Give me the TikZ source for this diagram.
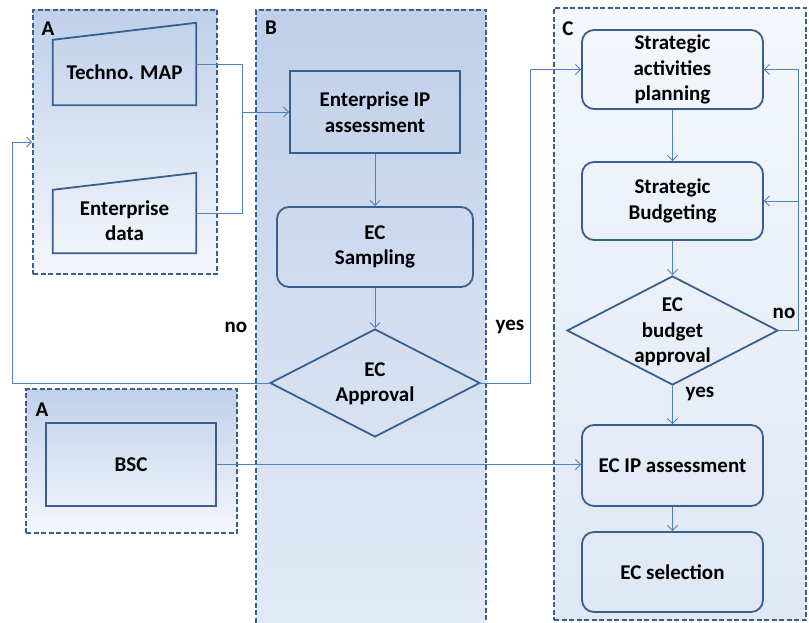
\documentclass[tikz,border=0pt]{standalone}
\usepackage{fontspec}
\setmainfont{Carlito}
\usetikzlibrary{arrows.meta,shapes.geometric}
\definecolor{bord}{HTML}{3A5F8F}
\definecolor{conn}{HTML}{4F81BD}
\definecolor{bgblue}{HTML}{C0D0EA}
\definecolor{bgmid}{HTML}{C6D5ED}
\definecolor{bglight}{HTML}{F4F7FC}
\tikzset{
  every node/.style={font=\bfseries\fontsize{21}{25.5}\selectfont, text=black},
  container/.style={draw=bord, line width=1.7pt, dash pattern=on 5pt off 2.5pt, inner sep=0pt},
  procbox/.style={draw=bord, line width=1.8pt, inner sep=0pt, align=center},
  roundbox/.style={procbox, rounded corners=12pt},
  decision/.style={draw=bord, line width=1.8pt, diamond, inner sep=0pt},
  manual/.style={inner sep=0pt},
  conline/.style={draw=conn, line width=0.9pt},
  conarrow/.style={conline, -{Straight Barb[length=5pt,width=10pt]}},
  lbl/.style={inner sep=0pt},
}
\begin{document}
\begin{tikzpicture}[x=1pt,y=-1pt]
\clip (0,0) rectangle (809,623);
\fill[white] (0,0) rectangle (809,623);
% containers
\node[container, minimum width=184pt, minimum height=264pt, top color=bgblue, middle color=bgmid, bottom color=bglight] (cA1) at (125,142) {};
\node[container, minimum width=230pt, minimum height=650pt, top color=bgblue, middle color=bgmid, bottom color=bglight!70!bgblue] (cB) at (371,335) {};
\node[container, minimum width=252pt, minimum height=612pt, top color=bglight, middle color=bgmid, bottom color=bglight!60!bgblue] (cC) at (680,314) {};
\node[container, minimum width=211pt, minimum height=144pt, top color=bgblue, middle color=bgmid, bottom color=bglight] (cA2) at (131.5,461) {};
\node[lbl] (labA1) at (48,29) {A};
\node[lbl] (labB) at (271,28) {B};
\node[lbl] (labC) at (568,29) {C};
\node[lbl] (labA2) at (42,410) {A};

% manual inputs
\node[manual, minimum width=143pt, minimum height=82pt] (tm) at (124.5,64) {\raisebox{-16pt}[0pt][0pt]{Techno. MAP}};
\draw[bord, line width=1.8pt, line join=miter] (tm.south west) -- ([yshift=-17pt]tm.north west) -- (tm.north east) -- (tm.south east) -- cycle;
\node[manual, minimum width=143pt, minimum height=80pt] (ed) at (124.5,213) {\raisebox{-28pt}[0pt][0pt]{\begin{tabular}[b]{@{}c@{}}Enterprise\\data\end{tabular}}};
\draw[bord, line width=1.8pt, line join=miter] (ed.south west) -- ([yshift=-17pt]ed.north west) -- (ed.north east) -- (ed.south east) -- cycle;

% column B
\node[procbox, minimum width=170pt, minimum height=82pt] (eip) at (375,112) {Enterprise IP\\assessment};
\node[roundbox, minimum width=196pt, minimum height=80pt] (ecs) at (375,247) {EC\\Sampling};
\node[decision, minimum width=210pt, minimum height=108pt, label={[align=center,yshift=-1pt]center:EC\\Approval}] (d1) at (375,383) {};

% BSC
\node[procbox, minimum width=170pt, minimum height=83pt] (bsc) at (131,464.5) {BSC};

% column C
\node[roundbox, minimum width=181pt, minimum height=79pt] (sap) at (672.5,69.5) {Strategic\\activities\\planning};
\node[roundbox, minimum width=181pt, minimum height=78pt] (sb) at (672.5,201) {Strategic\\Budgeting};
\node[decision, minimum width=211pt, minimum height=109pt, label={[align=center,yshift=-1.5pt]center:EC\\budget\\approval}] (d2) at (672.5,330.5) {};
\node[roundbox, minimum width=181pt, minimum height=81pt] (ecip) at (672.5,465.5) {EC IP assessment};
\node[roundbox, minimum width=181pt, minimum height=80pt] (ecsel) at (672.5,572) {EC selection};

% connectors
\coordinate (j1) at (242,112);
\draw[conline] (tm.east) -| (j1);
\draw[conline] (ed.east) -| (j1);
\draw[conarrow] (j1) -- (eip.west);
\draw[conarrow] (eip.south) -- (ecs.north);
\draw[conarrow] (ecs.south) -- (d1.north);
\coordinate (nol) at (12,383);
\draw[conarrow] (d1.west) -- (nol) |- (cA1.west);
\coordinate (yesr) at (530,383);
\draw[conarrow] (d1.east) -- (yesr) |- (sap.west);
\draw[conarrow] (sap.south) -- (sb.north);
\draw[conarrow] (sb.south) -- (d2.north);
\coordinate (nor) at (798,330.5);
\draw[conarrow] (d2.east) -- (nor) |- (sap.east);
\draw[conarrow] (nor |- sb.east) -- (sb.east);
\draw[conarrow] (d2.south) -- (ecip.north);
\draw[conarrow] (bsc.east) -- (bsc.east -| ecip.west);
\draw[conarrow] (ecip.south) -- (ecsel.north);

% branch labels
\node[lbl] (no1) at (236,327) {no};
\node[lbl] (yes1) at (510,327) {yes};
\node[lbl] (no2) at (784,313) {no};
\node[lbl] (yes2) at (700,394) {yes};
\end{tikzpicture}
\end{document}
